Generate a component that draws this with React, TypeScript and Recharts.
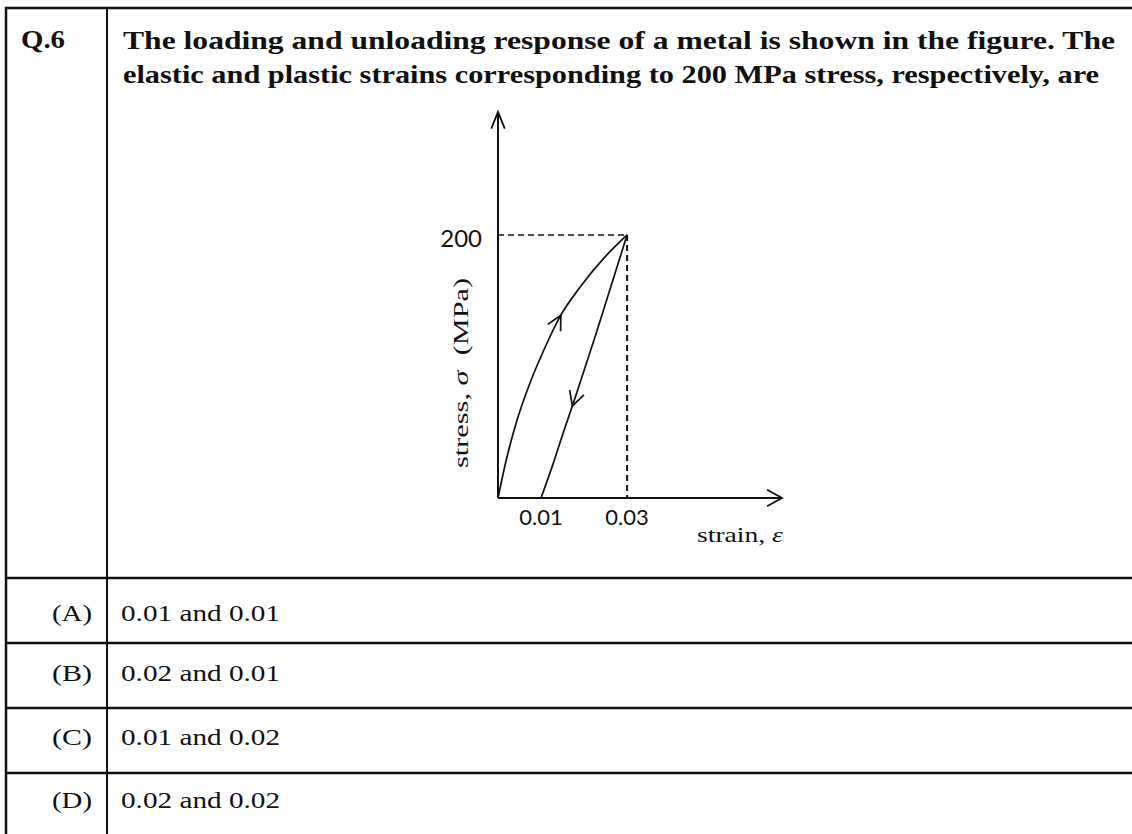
import React from 'react';
import { LineChart, Line, XAxis, YAxis, ReferenceLine, ReferenceDot } from 'recharts';

// loading branch: strain vs stress (MPa)
const loadStrain = [0, 0.002, 0.0045, 0.0075, 0.011, 0.0146, 0.019, 0.0245, 0.03];
const loadStress = [0, 30, 60, 88, 115, 139, 160, 182, 200];

// unloading branch, back down to 0.01 residual strain
const unloadStrain = [0.01, 0.0127, 0.0152, 0.0178, 0.0203, 0.0228, 0.0252, 0.0276, 0.03];
const unloadStress = [0, 25, 50, 75, 100, 125, 150, 175, 200];

const xTicks = [0.01, 0.03];
const yTicks = [200];
const peakStrain = 0.03;
const peakStress = 200;
const xMax = 0.066;
const yMax = 293.5;

// where the direction arrows sit on each branch
const loadArrow = { strain: 0.0146, stress: 139 };
const unloadArrow = { strain: 0.0173, stress: 70 };

const options = ['(A)', '(B)', '(C)', '(D)'];
const answers = ['0.01 and 0.01', '0.02 and 0.01', '0.01 and 0.02', '0.02 and 0.02'];

const loadData = loadStrain.map((s, i) => ({ strain: s, stress: loadStress[i] }));
const unloadData = unloadStrain.map((s, i) => ({ strain: s, stress: unloadStress[i] }));

const serif = "'Liberation Serif', serif";
const sans = "Lato, 'Open Sans', sans-serif";
const ink = '#111';

// open arrow head, angle = direction of travel in screen degrees
const Chevron = ({ cx, cy, angle, len, spread, width }: any) => {
  const back = ((angle + 180) * Math.PI) / 180;
  const s = (spread * Math.PI) / 180;
  const x1 = cx + len * Math.cos(back - s);
  const y1 = cy + len * Math.sin(back - s);
  const x2 = cx + len * Math.cos(back + s);
  const y2 = cy + len * Math.sin(back + s);
  return (
    <path
      d={`M${x1},${y1}L${cx},${cy}L${x2},${y2}`}
      fill="none"
      stroke={ink}
      strokeWidth={width}
      strokeLinejoin="miter"
    />
  );
};

const XTick = ({ x, y, payload }: any) => (
  <text x={x} y={y + 27} textAnchor="middle" style={{ fontFamily: sans }} fontSize={22} fill={ink}>
    {payload.value}
  </text>
);

const YTick = ({ x, y, payload }: any) => (
  <text x={x - 16} y={y + 12} textAnchor="end" style={{ fontFamily: sans }} fontSize={24} fill={ink}>
    {payload.value}
  </text>
);

const YLabel = (props: any) => {
  const vb = props.viewBox || { x: 0, y: 0, width: 0, height: 0 };
  const x = vb.x + vb.width - 30;
  const y = vb.y + vb.height * 0.676;
  return (
    <text
      x={x}
      y={y}
      transform={`rotate(-90 ${x} ${y})`}
      textAnchor="middle"
      style={{ fontFamily: serif }}
      fontSize={22}
      fill={ink}
      textLength={190}
      lengthAdjust="spacingAndGlyphs"
    >
      stress, <tspan fontStyle="italic">σ</tspan>{'\u00a0\u00a0'}(MPa)
    </text>
  );
};

const XLabel = (props: any) => {
  const vb = props.viewBox || { x: 0, y: 0, width: 0, height: 0 };
  return (
    <text
      x={vb.x + vb.width + 1}
      y={vb.y + 44}
      textAnchor="end"
      style={{ fontFamily: serif }}
      fontSize={21}
      fill={ink}
      textLength={86}
      lengthAdjust="spacingAndGlyphs"
    >
      strain, <tspan fontStyle="italic">ε</tspan>
    </text>
  );
};

const rowLines = [578, 643, 708, 773];
const rowBaselines = [621, 681, 745, 808];

export default function App() {
  const serifStyle = { fontFamily: serif };
  return (
    <div style={{ position: 'absolute', left: 0, top: 0, width: 1132, height: 834, background: '#fff', overflow: 'hidden' }}>
      <svg width={1132} height={834} style={{ position: 'absolute', left: 0, top: 0 }}>
        {/* table frame */}
        <line x1={5} y1={8} x2={1132} y2={8} stroke={ink} strokeWidth={2.5} />
        <line x1={6} y1={7} x2={6} y2={834} stroke={ink} strokeWidth={2.5} />
        <line x1={107} y1={7} x2={107} y2={834} stroke={ink} strokeWidth={2} />
        {rowLines.map((y) => (
          <line key={y} x1={5} y1={y} x2={1132} y2={y} stroke={ink} strokeWidth={2.5} />
        ))}

        {/* question */}
        <text x={21} y={48} style={serifStyle} fontWeight="bold" fontSize={26} fill={ink} textLength={44} lengthAdjust="spacingAndGlyphs">
          Q.6
        </text>
        <text x={123} y={49} style={serifStyle} fontWeight="bold" fontSize={26} fill={ink} textLength={992} lengthAdjust="spacingAndGlyphs">
          The loading and unloading response of a metal is shown in the figure. The
        </text>
        <text x={123} y={83} style={serifStyle} fontWeight="bold" fontSize={26} fill={ink} textLength={976} lengthAdjust="spacingAndGlyphs">
          elastic and plastic strains corresponding to 200 MPa stress, respectively, are
        </text>

        {/* answer options */}
        {options.map((o, i) => (
          <g key={o}>
            <text x={52} y={rowBaselines[i]} style={serifStyle} fontSize={24} fill={ink} textLength={40} lengthAdjust="spacingAndGlyphs">
              {o}
            </text>
            <text x={121} y={rowBaselines[i]} style={serifStyle} fontSize={24} fill={ink} textLength={159} lengthAdjust="spacingAndGlyphs">
              {answers[i]}
            </text>
          </g>
        ))}
      </svg>

      <div style={{ position: 'absolute', left: 380, top: 90 }}>
        <LineChart width={430} height={470} margin={{ top: 22, right: 28, bottom: 32, left: 58 }}>
          <XAxis
            type="number"
            dataKey="strain"
            domain={[0, xMax]}
            ticks={xTicks}
            interval={0}
            tickSize={0}
            tickMargin={0}
            tickLine={false}
            tick={<XTick />}
            height={30}
            axisLine={{ stroke: ink, strokeWidth: 2 }}
            label={<XLabel />}
          />
          <YAxis
            type="number"
            dataKey="stress"
            domain={[0, yMax]}
            ticks={yTicks}
            interval={0}
            tickSize={0}
            tickMargin={0}
            tickLine={false}
            tick={<YTick />}
            width={60}
            axisLine={{ stroke: ink, strokeWidth: 2 }}
            label={<YLabel />}
          />
          <ReferenceLine
            segment={[{ x: 0, y: peakStress }, { x: peakStrain, y: peakStress }]}
            stroke={ink}
            strokeWidth={1.5}
            strokeDasharray="6 4"
            ifOverflow="visible"
          />
          <ReferenceLine
            segment={[{ x: peakStrain, y: peakStress }, { x: peakStrain, y: 0 }]}
            stroke={ink}
            strokeWidth={2}
            strokeDasharray="6 4"
            ifOverflow="visible"
          />
          <Line
            data={loadData}
            dataKey="stress"
            type="monotone"
            stroke={ink}
            strokeWidth={1.7}
            dot={false}
            activeDot={false}
            isAnimationActive={false}
          />
          <Line
            data={unloadData}
            dataKey="stress"
            type="monotone"
            stroke={ink}
            strokeWidth={1.7}
            dot={false}
            activeDot={false}
            isAnimationActive={false}
          />
          <ReferenceDot
            x={loadArrow.strain}
            y={loadArrow.stress}
            ifOverflow="visible"
            shape={(p: any) => <Chevron cx={p.cx} cy={p.cy} angle={-62} len={16} spread={27} width={1.7} />}
          />
          <ReferenceDot
            x={unloadArrow.strain}
            y={unloadArrow.stress}
            ifOverflow="visible"
            shape={(p: any) => <Chevron cx={p.cx} cy={p.cy} angle={108} len={16} spread={28} width={1.7} />}
          />
          <ReferenceDot
            x={0}
            y={yMax}
            ifOverflow="visible"
            shape={(p: any) => <Chevron cx={p.cx} cy={p.cy} angle={-90} len={18} spread={22} width={1.8} />}
          />
          <ReferenceDot
            x={xMax}
            y={0}
            ifOverflow="visible"
            shape={(p: any) => <Chevron cx={p.cx} cy={p.cy} angle={0} len={17} spread={29} width={1.8} />}
          />
        </LineChart>
      </div>
    </div>
  );
}
